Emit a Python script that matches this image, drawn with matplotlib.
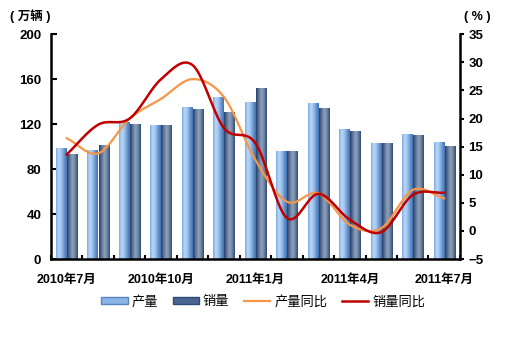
import numpy as np
import matplotlib
matplotlib.use("Agg")
import matplotlib.pyplot as plt
from matplotlib.colors import LinearSegmentedColormap
from matplotlib.patches import Patch
from matplotlib.lines import Line2D

plt.rcParams['font.family'] = ['Liberation Sans', 'Noto Sans CJK SC', 'DejaVu Sans']

months = ['2010年7月', '2010年8月', '2010年9月', '2010年10月', '2010年11月', '2010年12月',
          '2011年1月', '2011年2月', '2011年3月', '2011年4月', '2011年5月', '2011年6月', '2011年7月']
production = [98, 96.5, 121.5, 119, 135, 144, 139, 96, 138, 115, 103, 111, 104]
sales = [93, 100.5, 120, 119, 133, 130, 152, 96, 134, 113, 103, 110, 100]
prod_yoy = [16.5, 13.8, 20.0, 23.5, 27.0, 23.8, 12.6, 5.2, 6.7, 1.1, 0.5, 7.3, 5.8]
sales_yoy = [13.6, 18.9, 20.0, 27.0, 29.5, 18.3, 15.6, 2.3, 6.6, 2.0, -0.2, 6.4, 6.8]


def smooth(x, y, n=20):
    # catmull-rom style smoothing, like excel "smoothed line"
    x = np.asarray(x, float)
    y = np.asarray(y, float)
    px = np.concatenate([[2 * x[0] - x[1]], x, [2 * x[-1] - x[-2]]])
    py = np.concatenate([[2 * y[0] - y[1]], y, [2 * y[-1] - y[-2]]])
    xs, ys = [], []
    t = np.linspace(0, 1, n, endpoint=False)
    for i in range(1, len(px) - 2):
        for p, out in ((px, xs), (py, ys)):
            p0, p1, p2, p3 = p[i - 1], p[i], p[i + 1], p[i + 2]
            out.extend(0.5 * (2 * p1 + (-p0 + p2) * t + (2 * p0 - 5 * p1 + 4 * p2 - p3) * t ** 2
                              + (-p0 + 3 * p1 - 3 * p2 + p3) * t ** 3))
    xs.append(x[-1])
    ys.append(y[-1])
    return np.array(xs), np.array(ys)


light_cmap = LinearSegmentedColormap.from_list('l', ['#7FAAE0', '#B8D8F8', '#9CC2EE', '#6A96D0', '#456FAE'])
dark_cmap = LinearSegmentedColormap.from_list('d', ['#24406C', '#5C7497', '#8FA2BA', '#6D83A3', '#2E4A76'])
grad = np.linspace(0, 1, 64).reshape(1, -1)

fig = plt.figure(figsize=(5.08, 3.45), dpi=100)
ax = fig.add_axes([0.1004, 0.249, 0.805, 0.652])
ax2 = ax.twinx()

x = np.arange(len(months))
bw = 0.33
gap = 0.02
for i in x:
    l0 = i - gap / 2 - bw
    ax.imshow(grad, extent=[l0, l0 + bw, 0, production[i]], aspect='auto', cmap=light_cmap, zorder=2)
    d0 = i + gap / 2
    ax.imshow(grad, extent=[d0, d0 + bw, 0, sales[i]], aspect='auto', cmap=dark_cmap, zorder=2)

ax.set_xlim(-0.5, len(months) - 0.5)
ax.set_ylim(0, 200)
ax.set_yticks([0, 40, 80, 120, 160, 200])

sx, sy = smooth(x, prod_yoy)
ax2.plot(sx, sy, color='#F79646', lw=1.6, zorder=3)
sx, sy = smooth(x, sales_yoy)
ax2.plot(sx, sy, color='#C00000', lw=1.8, zorder=4)
ax2.set_ylim(-5, 35)
ax2.set_yticks(range(-5, 40, 5))
ax2.set_xlim(-0.5, len(months) - 0.5)

for a in (ax, ax2):
    a.spines['top'].set_visible(False)
    for s in ('left', 'right', 'bottom'):
        a.spines[s].set_linewidth(1.8)
ax2.spines['left'].set_visible(False)
ax2.spines['bottom'].set_visible(False)
ax.spines['right'].set_visible(False)

ax.tick_params(axis='y', direction='in', length=4, width=1.5, pad=7, labelsize=9.5)
ax2.tick_params(axis='y', direction='out', length=3, width=1.5, pad=3, labelsize=9.5)
for lab in ax.get_yticklabels() + ax2.get_yticklabels():
    lab.set_fontweight('bold')

ax.set_xticks(np.arange(-0.5, len(months), 1))
ax.set_xticklabels([])
ax.tick_params(axis='x', which='major', direction='in', length=3, width=1.5)
ax.set_xticks(x[::3], minor=True)
ax.set_xticklabels([months[i] for i in x[::3]], minor=True, fontweight='bold', fontsize=9)
ax.tick_params(axis='x', which='minor', length=0, pad=11)

fig.text(0.02, 0.952, '( 万辆 )', fontsize=9, fontweight='bold', va='center')
fig.text(0.913, 0.952, '( % )', fontsize=9, fontweight='bold', va='center')

handles = [Patch(facecolor='#8AB5E6', edgecolor='#5A85C0'),
           Patch(facecolor='#4A6690', edgecolor='#2E4A76'),
           Line2D([], [], color='#F79646', lw=1.6),
           Line2D([], [], color='#C00000', lw=1.8)]
fig.legend(handles, ['产量', '销量', '产量同比', '销量同比'], loc='center',
           bbox_to_anchor=(0.518, 0.125), ncol=4, frameon=False, fontsize=9.5,
           handlelength=2.0, handleheight=0.5, columnspacing=1.1, handletextpad=0.3)

fig.savefig('out.png', dpi=100)
